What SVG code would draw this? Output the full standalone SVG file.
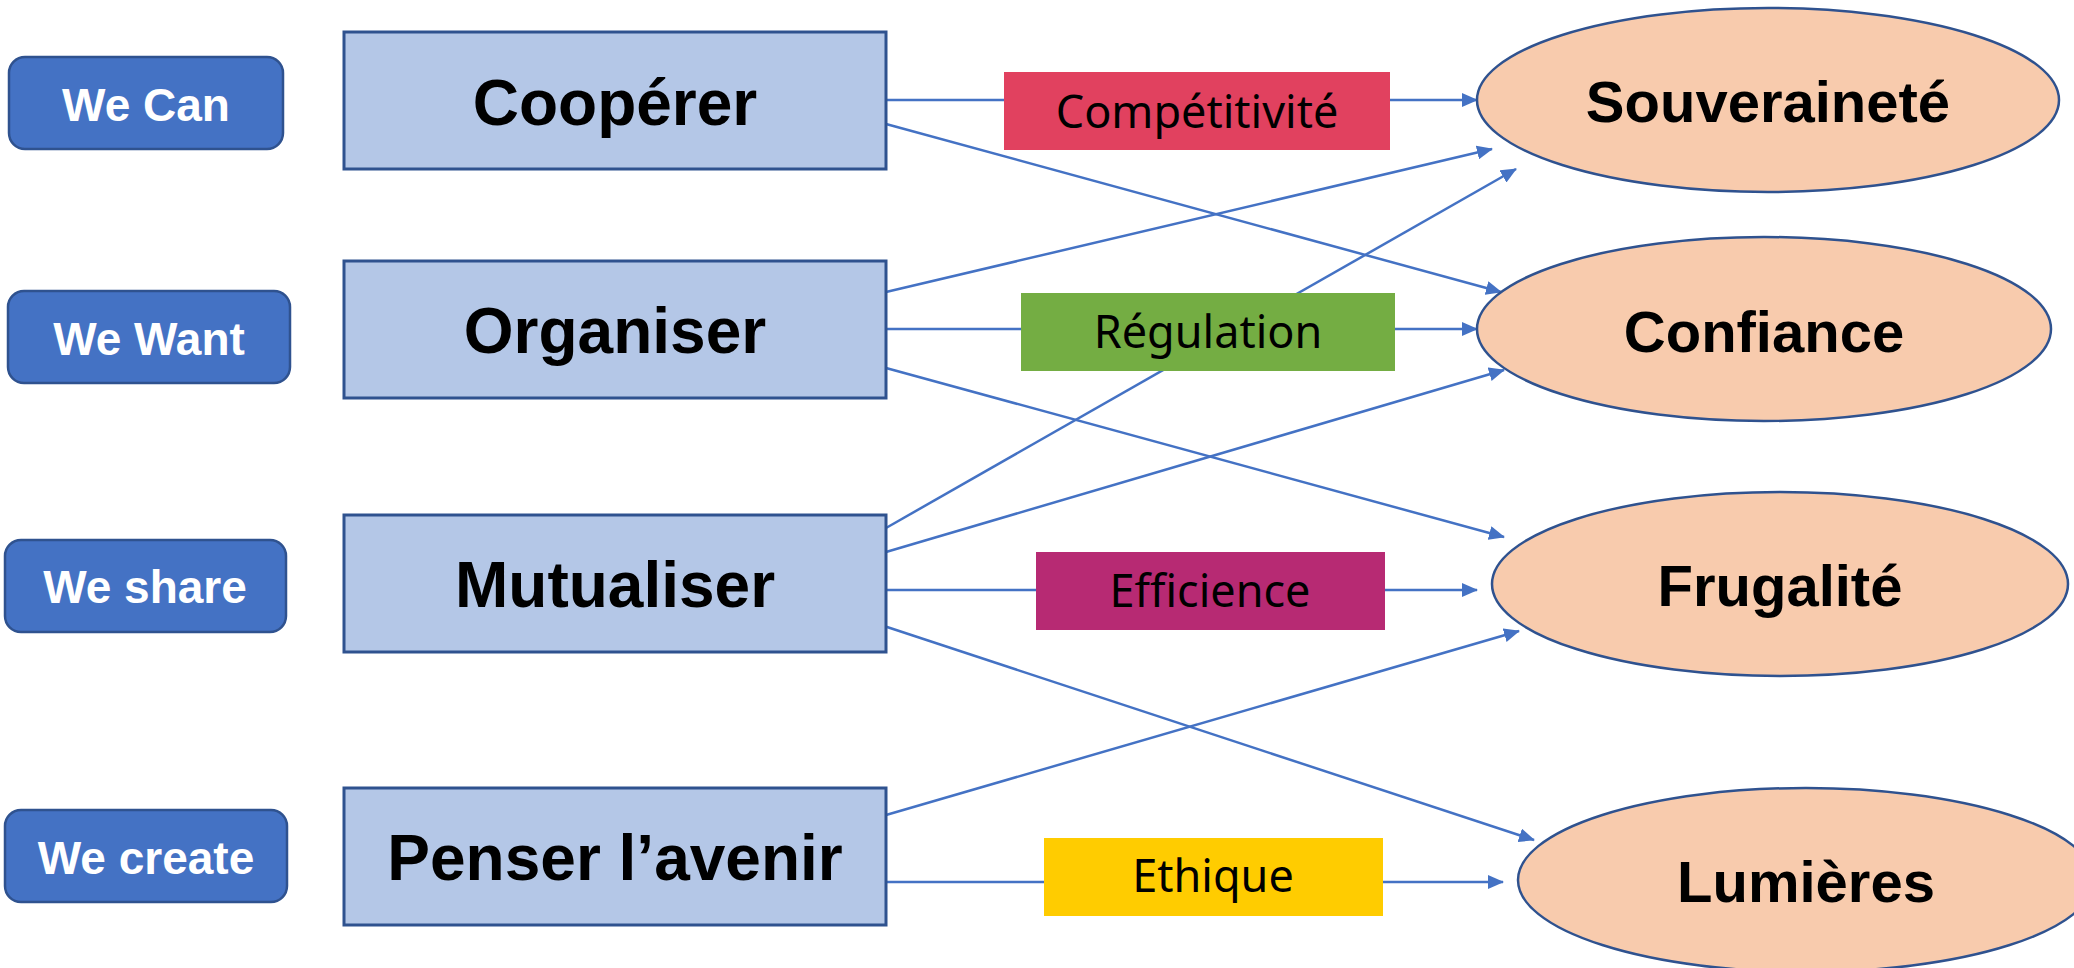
<svg xmlns="http://www.w3.org/2000/svg" width="2074" height="968" viewBox="0 0 2074 968">
<style>
.pill{fill:#4472C4;stroke:#2F528F;stroke-width:2.5}
.pt{font-family:"Liberation Sans",Arial,sans-serif;font-weight:bold;font-size:46px;fill:#fff;text-anchor:middle}
.box{fill:#B4C7E7;stroke:#2F528F;stroke-width:3}
.bt{font-family:"Liberation Sans",Arial,sans-serif;font-weight:bold;font-size:64px;fill:#000;text-anchor:middle}
.ell{fill:#F8CBAD;stroke:#2F528F;stroke-width:2.5}
.et{font-family:"Liberation Sans",Arial,sans-serif;font-weight:bold;font-size:58px;fill:#000;text-anchor:middle}
.lt{font-family:"Noto Sans","Open Sans",sans-serif;font-size:45px;fill:#000;text-anchor:middle}
.ln{fill:none;stroke:#4472C4;stroke-width:2.5}
.ar{marker-end:url(#ah)}
</style>
<defs>
<marker id="ah" markerUnits="userSpaceOnUse" markerWidth="16" markerHeight="14" refX="15" refY="7" orient="auto">
<path d="M0,0 L16,7 L0,14 z" fill="#4472C4"/>
</marker>
</defs>
<rect width="2074" height="968" fill="#fff"/>
<g id="connectors">
<line class="ln" x1="886" y1="100" x2="1004" y2="100"/>
<line class="ln ar" x1="1390" y1="100" x2="1477" y2="100"/>
<line class="ln ar" x1="886" y1="124" x2="1501" y2="292"/>
<line class="ln ar" x1="886" y1="292" x2="1492" y2="149"/>
<line class="ln" x1="886" y1="329" x2="1021" y2="329"/>
<line class="ln ar" x1="1395" y1="329" x2="1477" y2="329"/>
<line class="ln ar" x1="886" y1="368" x2="1504" y2="537"/>
<line class="ln ar" x1="886" y1="528" x2="1516" y2="169"/>
<line class="ln ar" x1="886" y1="552" x2="1504" y2="370"/>
<line class="ln" x1="886" y1="590" x2="1036" y2="590"/>
<line class="ln ar" x1="1385" y1="590" x2="1477" y2="590"/>
<line class="ln ar" x1="884" y1="626" x2="1534" y2="840"/>
<line class="ln ar" x1="886" y1="815" x2="1519" y2="631"/>
<line class="ln" x1="886" y1="882" x2="1044" y2="882"/>
<line class="ln ar" x1="1383" y1="882" x2="1503" y2="882"/>
</g>
<g id="lbl-competitivite"><rect x="1004" y="72" width="386" height="78" fill="#E1415F"/><text class="lt" x="1197" y="128">Compétitivité</text></g>
<g id="lbl-regulation"><rect x="1021" y="293" width="374" height="78" fill="#74AD43"/><text class="lt" x="1208" y="348">Régulation</text></g>
<g id="lbl-efficience"><rect x="1036" y="552" width="349" height="78" fill="#B72A73"/><text class="lt" x="1210" y="607">Efficience</text></g>
<g id="lbl-ethique"><rect x="1044" y="838" width="339" height="78" fill="#FFCC00"/><text class="lt" x="1213" y="892">Ethique</text></g>
<g id="we-can"><rect class="pill" x="9" y="57" width="274" height="92" rx="16"/><text class="pt" x="146" y="121">We Can</text></g>
<g id="we-want"><rect class="pill" x="8" y="291" width="282" height="92" rx="16"/><text class="pt" x="149" y="355">We Want</text></g>
<g id="we-share"><rect class="pill" x="5" y="540" width="281" height="92" rx="16"/><text class="pt" x="145" y="603">We share</text></g>
<g id="we-create"><rect class="pill" x="5" y="810" width="282" height="92" rx="16"/><text class="pt" x="146" y="874">We create</text></g>
<g id="cooperer"><rect class="box" x="344" y="32" width="542" height="137"/><text class="bt" x="615" y="125">Coopérer</text></g>
<g id="organiser"><rect class="box" x="344" y="261" width="542" height="137"/><text class="bt" x="615" y="353">Organiser</text></g>
<g id="mutualiser"><rect class="box" x="344" y="515" width="542" height="137"/><text class="bt" x="615" y="607">Mutualiser</text></g>
<g id="penser"><rect class="box" x="344" y="788" width="542" height="137"/><text class="bt" x="615" y="880">Penser l’avenir</text></g>
<g id="souverainete"><ellipse class="ell" cx="1768" cy="100" rx="291" ry="92"/><text class="et" x="1768" y="122">Souveraineté</text></g>
<g id="confiance"><ellipse class="ell" cx="1764" cy="329" rx="287" ry="92"/><text class="et" x="1764" y="352">Confiance</text></g>
<g id="frugalite"><ellipse class="ell" cx="1780" cy="584" rx="288" ry="92"/><text class="et" x="1780" y="606">Frugalité</text></g>
<g id="lumieres"><ellipse class="ell" cx="1806" cy="880" rx="288" ry="92"/><text class="et" x="1806" y="902">Lumières</text></g>
</svg>
